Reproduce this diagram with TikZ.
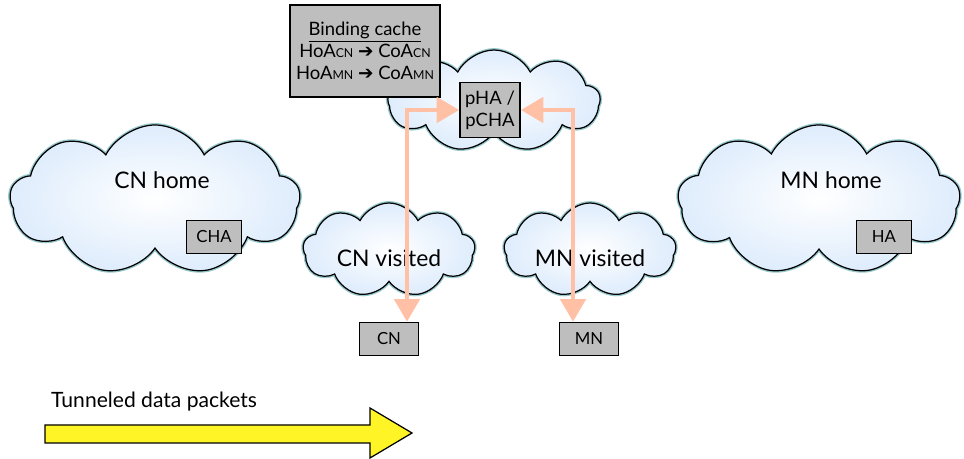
\documentclass[tikz,border=0pt]{standalone}
\usepackage{fontspec}
\setmainfont{Lato}
\newfontfamily\symfont{DejaVu Sans}
\usetikzlibrary{arrows.meta,positioning,shapes.symbols,calc}

\definecolor{linkcol}{RGB}{255,192,165}
\definecolor{boxgray}{RGB}{190,190,190}
\definecolor{cloudedge}{RGB}{150,200,205}
\definecolor{cloudfill}{RGB}{222,236,252}

\newcommand{\sub}[1]{{\fontsize{7}{8}\selectfont #1}}
\newcommand{\harrow}{{\symfont\char"2794}}

\begin{document}
\begin{tikzpicture}[
    net/.style={cloud, cloud puffs=9, cloud puff arc=125, cloud ignores aspect,
                draw=black, line width=0.7pt, inner color=white, outer color=cloudfill,
                preaction={draw=cloudedge, line width=2.2pt}},
    agent/.style={draw=black, line width=0.9pt, fill=boxgray, align=center,
                  inner sep=2pt, font=\fontsize{9.5}{11.5}\selectfont},
    netlabel/.style={font=\fontsize{13}{15}\selectfont},
    link/.style={draw=linkcol, line width=2.6pt,
                 {Triangle[width=0.5cm,length=0.45cm]}-{Triangle[width=0.5cm,length=0.45cm]}},
  ]
  \useasboundingbox (0,0) rectangle (19.28,9.18);

  % networks
  \node[net, minimum width=5.8cm, minimum height=3.0cm] (cnhome) at (3.10,5.18) {};
  \node[net, minimum width=5.64cm, minimum height=3.0cm] (mnhome) at (16.38,5.18) {};
  \node[net, minimum width=3.44cm, minimum height=1.88cm] (cnvis) at (7.78,4.18) {};
  \node[net, minimum width=3.44cm, minimum height=1.88cm] (mnvis) at (11.80,4.18) {};
  \node[net, minimum width=4.24cm, minimum height=2.04cm] (phanet) at (9.88,7.16) {};

  \node[netlabel] (cnhomelbl) at (3.24,5.58) {CN home};
  \node[netlabel] (mnhomelbl) at (16.62,5.58) {MN home};
  \node[netlabel] (cnvislbl) at (7.78,4.02) {CN visited};
  \node[netlabel] (mnvislbl) at (11.80,4.02) {MN visited};

  % agents and hosts
  \node[agent, minimum width=1.1cm, minimum height=0.66cm] (cha) at (4.28,4.44) {CHA};
  \node[agent, minimum width=1.1cm, minimum height=0.66cm] (ha) at (17.68,4.44) {HA};
  \node[agent, minimum width=1.18cm, minimum height=0.66cm] (cn) at (7.78,2.40) {CN};
  \node[agent, minimum width=1.18cm, minimum height=0.66cm] (mn) at (11.78,2.40) {MN};
  \node[agent, minimum width=1.2cm, minimum height=1.1cm,
        font=\fontsize{10.5}{12.5}\selectfont] (pha) at (9.80,6.98) {pHA /\\pCHA};

  \node[agent, minimum width=3.0cm, minimum height=1.84cm,
        font=\fontsize{10.5}{12.5}\selectfont] (cache) at (7.30,8.16)
    {\underline{Binding cache}\\
     HoA\sub{CN} \harrow{} CoA\sub{CN}\\
     HoA\sub{MN} \harrow{} CoA\sub{MN}};

  % signalling
  \coordinate (cnend) at ($(cn.north)+(0.36,0)$);
  \coordinate (mnend) at ($(mn.north)+(-0.32,0)$);
  \draw[link] (pha.west) -| (cnend);
  \draw[link] (pha.east) -| (mnend);

  % legend
  \draw[fill=yellow!85, draw=black, line width=0.7pt]
    (0.9,0.32) -- (7.4,0.32) -- (7.4,0.02) -- (8.24,0.52) -- (7.4,1.02)
    -- (7.4,0.68) -- (0.9,0.68) -- cycle;
  \node[anchor=west, font=\fontsize{12}{14}\selectfont] (legend) at (0.9,1.14) {Tunneled data packets};
\end{tikzpicture}
\end{document}
